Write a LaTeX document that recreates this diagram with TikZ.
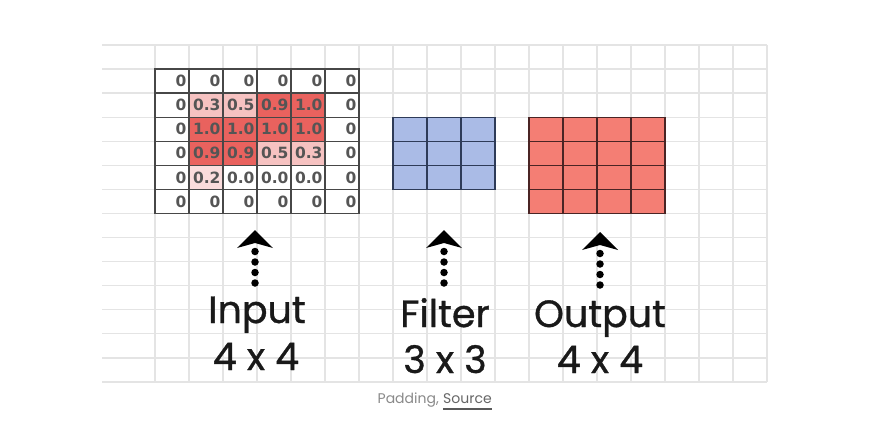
\documentclass[tikz,border=0pt]{standalone}
\usepackage{fontspec}
\setmainfont{Poppins}
\newfontfamily\lblfont{Poppins}[FakeBold=0.9]
\newfontfamily\cellfont{DejaVu Sans}
\usetikzlibrary{arrows.meta}
\definecolor{gridbg}{HTML}{E4E4E4}
\definecolor{hot}{HTML}{E9625E}
\definecolor{warm}{HTML}{F6C2C1}
\definecolor{mild}{HTML}{FADCDC}
\definecolor{filt}{HTML}{AABBE6}
\definecolor{filtln}{HTML}{2E3B58}
\definecolor{outc}{HTML}{F47E74}
\definecolor{outln}{HTML}{4A2424}
\definecolor{celltext}{HTML}{555555}
\definecolor{captext}{HTML}{8A8A8A}
\newcommand\incell[4]{\node[incell, fill=#4] (in-#1-#2) at (155+34*#2, 69.07+24.07*#1) {#3};}
\begin{document}
\begin{tikzpicture}[x=1pt,y=-1pt,
  bggrid/.style={draw=gridbg, line width=1.3pt},
  incell/.style={draw=black!72, line width=1.3pt, anchor=north west,
    minimum height=24.07pt, text width=29pt, inner xsep=2.5pt, inner ysep=0pt,
    outer sep=0pt, align=right, text=celltext,
    font=\cellfont\bfseries\fontsize{15.5}{15.5}\selectfont},
  fcell/.style={draw=filtln, fill=filt, line width=1.3pt, anchor=north west,
    minimum width=34pt, minimum height=24.07pt, inner sep=0pt, outer sep=0pt},
  ocell/.style={draw=outln, fill=outc, line width=1.3pt, anchor=north west,
    minimum width=34pt, minimum height=24.07pt, inner sep=0pt, outer sep=0pt},
  dotarrow/.style={line width=7.5pt, line cap=round, dash pattern=on 0pt off 10.5pt,
    -{Stealth[length=18pt,width=36pt,inset=5pt,line width=0pt]}},
  lbl/.style={anchor=base, inner sep=0pt, text=black!90, font=\lblfont\fontsize{38}{38}\selectfont},
  capt/.style={inner sep=0pt, text=captext, font=\fontsize{14}{14}\selectfont}]
\fill[white] (0,0) rectangle (873,445);
\useasboundingbox (0,0) rectangle (873,445);
% background grid
\foreach \k in {0,...,14} \draw[bggrid] (102,45+24.07*\k) -- (767,45+24.07*\k);
\foreach \k in {0,...,18} \draw[bggrid] (155+34*\k,45) -- (155+34*\k,382);
% input 6x6 with padding
\foreach \c in {0,...,5} {\incell{0}{\c}{0}{white}\incell{5}{\c}{0}{white}}
\foreach \r in {1,...,4} {\incell{\r}{0}{0}{white}\incell{\r}{5}{0}{white}}
\foreach \r/\c/\v/\f in {1/1/0.3/warm,1/2/0.5/warm,1/3/0.9/hot,1/4/1.0/hot,
  2/1/1.0/hot,2/2/1.0/hot,2/3/1.0/hot,2/4/1.0/hot,
  3/1/0.9/hot,3/2/0.9/hot,3/3/0.5/warm,3/4/0.3/warm,
  4/1/0.2/mild,4/2/0.0/white,4/3/0.0/white,4/4/0.0/white}
  {\incell{\r}{\c}{\v}{\f}}
% filter 3x3
\foreach \r in {0,1,2} \foreach \c in {0,1,2}
  \node[fcell] (f-\r-\c) at (393+34*\c, 117.21+24.07*\r) {};
% output 4x4
\foreach \r in {0,...,3} \foreach \c in {0,...,3}
  \node[ocell] (o-\r-\c) at (529+34*\c, 117.21+24.07*\r) {};
% arrows
\coordinate (ia0) at (255,283); \coordinate (ia1) at (255,230);
\coordinate (fa0) at (444,283); \coordinate (fa1) at (444,230);
\coordinate (oa0) at (600,285); \coordinate (oa1) at (600,232);
\draw[dotarrow] (ia0) -- (ia1);
\draw[dotarrow] (fa0) -- (fa1);
\draw[dotarrow] (oa0) -- (oa1);
% labels
\node[lbl] (inl1) at (257,323) {Input};
\node[lbl] (inl2) at (256,370) {4 x 4};
\node[lbl] (fl1) at (445,327) {Filter};
\node[lbl] (fl2) at (445,373) {3 x 3};
\node[lbl] (ol1) at (600,327) {Output};
\node[lbl] (ol2) at (600,373) {4 x 4};
% caption
\node[capt, anchor=base east] (pad) at (439,403) {Padding,};
\node[capt, anchor=base west, text=black!60] (src) at (443,403) {Source};
\draw[black!65, line width=1.2pt] ([yshift=-6pt]src.base west) -- ([yshift=-6pt]src.base east);
\end{tikzpicture}
\end{document}
